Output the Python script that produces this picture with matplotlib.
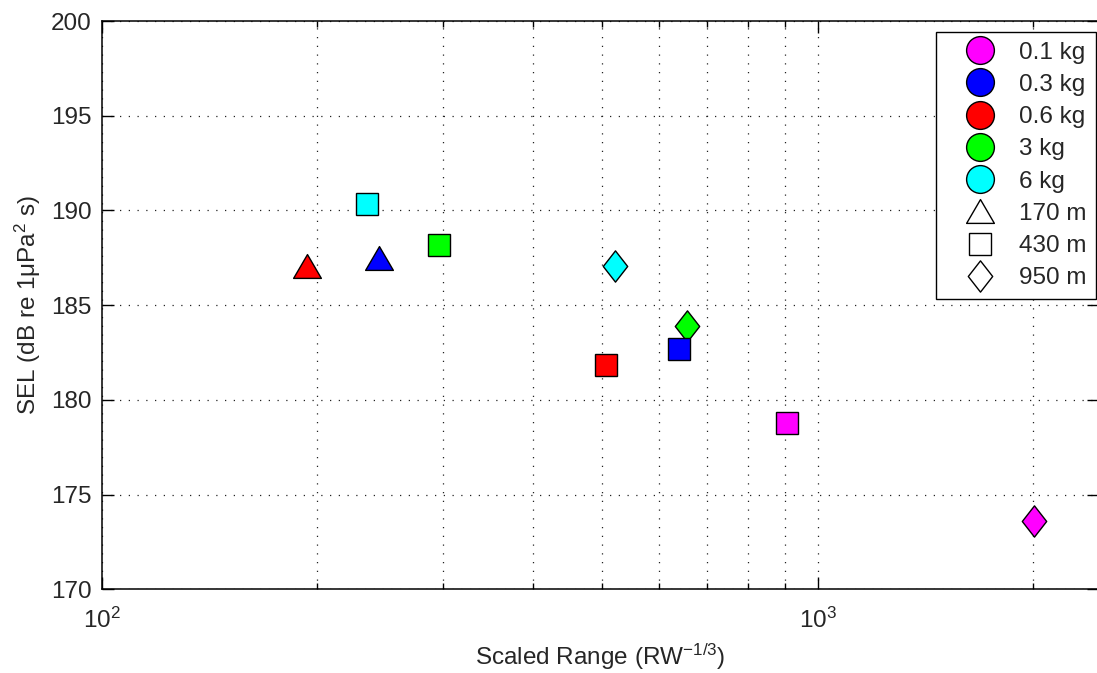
import matplotlib
matplotlib.use("Agg")
import matplotlib.pyplot as plt
from matplotlib.lines import Line2D
from matplotlib.path import Path
from matplotlib.ticker import LogLocator, NullFormatter, MultipleLocator

plt.rcParams['font.family'] = ['Liberation Sans', 'DejaVu Sans']
plt.rcParams['mathtext.fontset'] = 'custom'
plt.rcParams['mathtext.rm'] = 'Liberation Sans'
plt.rcParams['mathtext.it'] = 'Liberation Sans:italic'
plt.rcParams['mathtext.default'] = 'regular'

# Charge weights and ranges
charges = ['0.1 kg', '0.3 kg', '0.6 kg', '3 kg', '6 kg']
charge_colors = ['#FF00FF', '#0000FF', '#FF0000', '#00FF00', '#00FFFF']
ranges = ['170 m', '430 m', '950 m']

# Measurements: charge index, range index, scaled range, SEL
pt_charge = [2, 1, 4, 3, 4, 3, 1, 2, 0, 0]
pt_range = [0, 0, 1, 1, 2, 2, 1, 1, 1, 2]
scaled_range = [193.7, 244.0, 234.5, 295.8, 520.6, 656.3, 639.5, 507.0, 906.6, 2005.0]
sel = [187.06, 187.5, 190.35, 188.2, 187.06, 183.9, 182.68, 181.82, 178.78, 173.63]

tri = Path([(0, 0.857), (-1, -0.857), (1, -0.857), (0, 0.857)],
           [Path.MOVETO, Path.LINETO, Path.LINETO, Path.CLOSEPOLY])
dia = Path([(0, 1), (0.78, 0), (0, -1), (-0.78, 0), (0, 1)],
           [Path.MOVETO, Path.LINETO, Path.LINETO, Path.LINETO, Path.CLOSEPOLY])
range_markers = [tri, 's', dia]
range_sizes = [20.0, 15.8, 22.5]

fig = plt.figure(figsize=(10.97, 6.73), dpi=100)
W, H = 1097.0, 673.0
left, right, top, bottom = 101.5, 1099.0, 21.0, 589.3
ax = fig.add_axes([left / W, 1 - bottom / H, (right - left) / W, (bottom - top) / H])

for c, r, x, y in zip(pt_charge, pt_range, scaled_range, sel):
    ax.plot([x], [y], linestyle='none', marker=range_markers[r],
            markersize=range_sizes[r], markerfacecolor=charge_colors[c],
            markeredgecolor='black', markeredgewidth=1.0, zorder=3)

ax.set_xscale('log')
ax.set_xlim(100, 2470)
ax.set_ylim(170, 200)
ax.yaxis.set_major_locator(MultipleLocator(5))
ax.xaxis.set_major_locator(LogLocator(base=10))
ax.xaxis.set_minor_locator(LogLocator(base=10, subs=range(2, 10)))
ax.xaxis.set_minor_formatter(NullFormatter())

grid_style = dict(color='#222222', linestyle=(0, (1, 6)), linewidth=0.9)
ax.grid(True, which='major', axis='both', **grid_style)
ax.grid(True, which='minor', axis='x', **grid_style)
ax.set_axisbelow(True)

txt = '#262626'
ax.tick_params(axis='both', which='major', direction='in', length=8.5, width=1.0,
               top=True, right=True, labelsize=17.5, colors='black', labelcolor=txt, pad=7)
ax.tick_params(axis='x', which='major', pad=13)
ax.tick_params(axis='x', which='minor', direction='in', length=4.5, width=1.0,
               top=True, colors='black')
for s in ax.spines.values():
    s.set_linewidth(1.1)
    s.set_color('black')

ax.set_xlabel('Scaled Range (RW$^{-1/3}$)', fontsize=17.5, color=txt, labelpad=7)
ax.set_ylabel('SEL (dB re 1\u03bcPa$^2$ s)', fontsize=17.5, color=txt, labelpad=6)

handles = []
for name, col in zip(charges, charge_colors):
    handles.append(Line2D([], [], linestyle='none', marker='o', markersize=20,
                          markerfacecolor=col, markeredgecolor='black',
                          markeredgewidth=1.0, label=name))
for name, m, ms in zip(ranges, range_markers, range_sizes):
    handles.append(Line2D([], [], linestyle='none', marker=m, markersize=ms,
                          markerfacecolor='white', markeredgecolor='black',
                          markeredgewidth=1.0, label=name))

leg = ax.legend(handles=handles, loc='upper right',
                bbox_to_anchor=(1096 / W, 1 - 32 / H), bbox_transform=fig.transFigure,
                borderaxespad=0, fancybox=False, framealpha=1, edgecolor='black',
                fontsize=17.5, labelspacing=0.42, handlelength=2.8, handletextpad=0.2,
                borderpad=0.4, labelcolor=txt)
leg.get_frame().set_linewidth(1.0)

fig.savefig('out.png', dpi=100)
